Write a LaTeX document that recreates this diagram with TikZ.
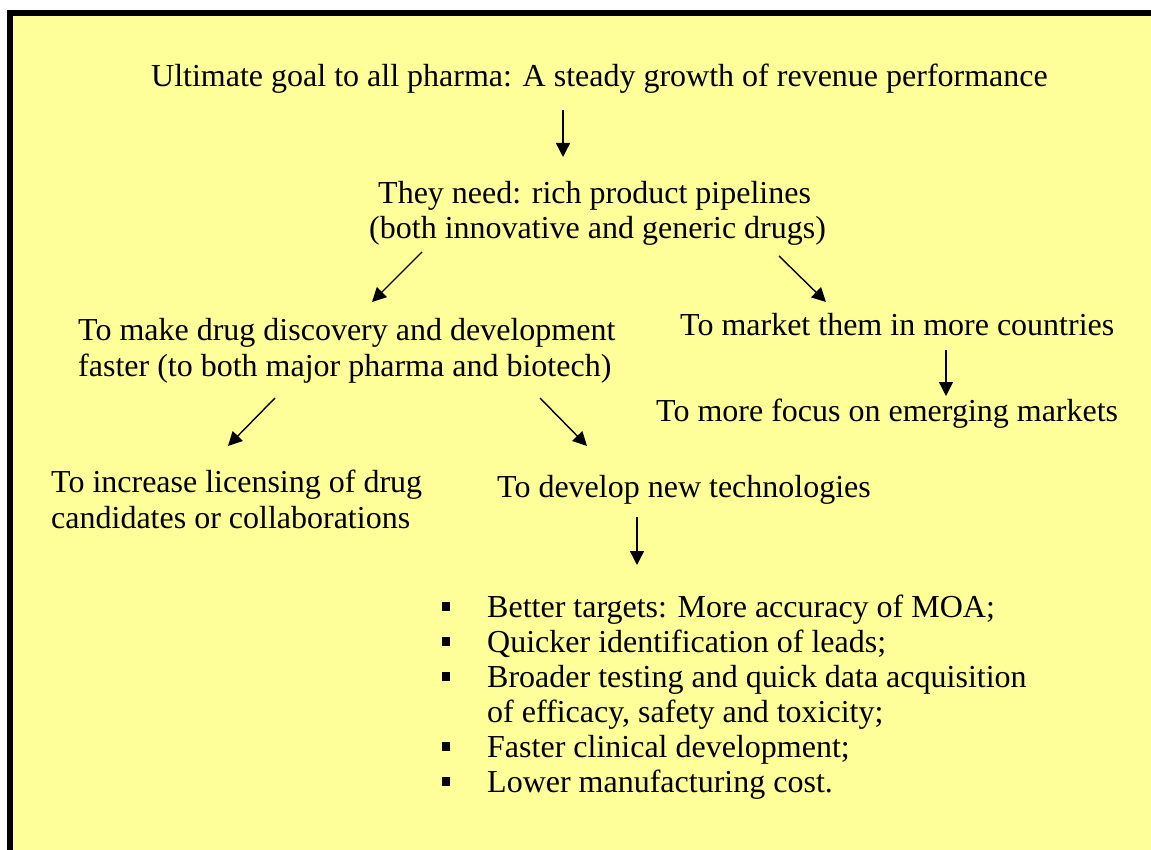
\documentclass[tikz,border=0pt]{standalone}
\usepackage{fontspec}
\setmainfont{Liberation Serif}
\usetikzlibrary{arrows.meta}
\definecolor{notepad}{HTML}{FFFF99}
\begin{document}
\begin{tikzpicture}[x=1pt,y=-1pt,
  txt/.style={anchor=base west, inner sep=0pt, font=\fontsize{32}{36}\selectfont},
  flow/.style={-{Triangle[width=14pt,length=14pt]}, line width=1.4pt},
  bulletmark/.style={fill=black, inner sep=0pt, minimum width=8pt, minimum height=9pt}]
\useasboundingbox (0,0) rectangle (1151,850);

% yellow sheet with a heavy black edge on the top and left
\begin{scope}
  \clip (0,0) rectangle (1151,850);
  \fill[notepad] (10.3,12.6) rectangle (1170,870);
  \draw[line width=6pt] (10.3,880) |- (1180,12.6);
\end{scope}

% text lines
\node[txt] (goal)    at (151,87)  {Ultimate goal to all pharma: A steady growth of revenue performance};
\node[txt] (need)    at (378,204) {They need: rich product pipelines};
\node[txt] (needb)   at (369,239) {(both innovative and generic drugs)};
\node[txt] (faster)  at (78,340)  {To make drug discovery and development};
\node[txt] (fasterb) at (78,376)  {faster (to both major pharma and biotech)};
\node[txt] (market)  at (680,335) {To market them in more countries};
\node[txt] (emerge)  at (656,421) {To more focus on emerging markets};
\node[txt] (licence) at (51,492)  {To increase licensing of drug};
\node[txt] (licenceb) at (51,528) {candidates or collaborations};
\node[txt] (tech)    at (497,497) {To develop new technologies};

% bulleted list
\foreach \i/\t in {0/{Better targets: More accuracy of MOA;},
                   1/{Quicker identification of leads;},
                   2/{Broader testing and quick data acquisition},
                   4/{Faster clinical development;},
                   5/{Lower manufacturing cost.}}{
  \node[bulletmark] (dot\i) at (446,{617+35*\i-10.5}) {};
  \node[txt] (item\i) at (487,{617+35*\i}) {\t};
}
\node[txt] (item3) at (487,722) {of efficacy, safety and toxicity;};

% arrow end points
\coordinate (a1s) at (563,110); \coordinate (a1e) at (563,157);
\coordinate (a2s) at (422,252); \coordinate (a2e) at (372,302);
\coordinate (a3s) at (779,256); \coordinate (a3e) at (826,302);
\coordinate (a4s) at (946,350); \coordinate (a4e) at (946,396);
\coordinate (a5s) at (275,398); \coordinate (a5e) at (228,446);
\coordinate (a6s) at (540,398); \coordinate (a6e) at (587,446);
\coordinate (a7s) at (637,517); \coordinate (a7e) at (637,565);

\draw[flow] (a1s) -- (a1e);
\draw[flow] (a2s) -- (a2e);
\draw[flow] (a3s) -- (a3e);
\draw[flow] (a4s) -- (a4e);
\draw[flow] (a5s) -- (a5e);
\draw[flow] (a6s) -- (a6e);
\draw[flow] (a7s) -- (a7e);
\end{tikzpicture}
\end{document}
